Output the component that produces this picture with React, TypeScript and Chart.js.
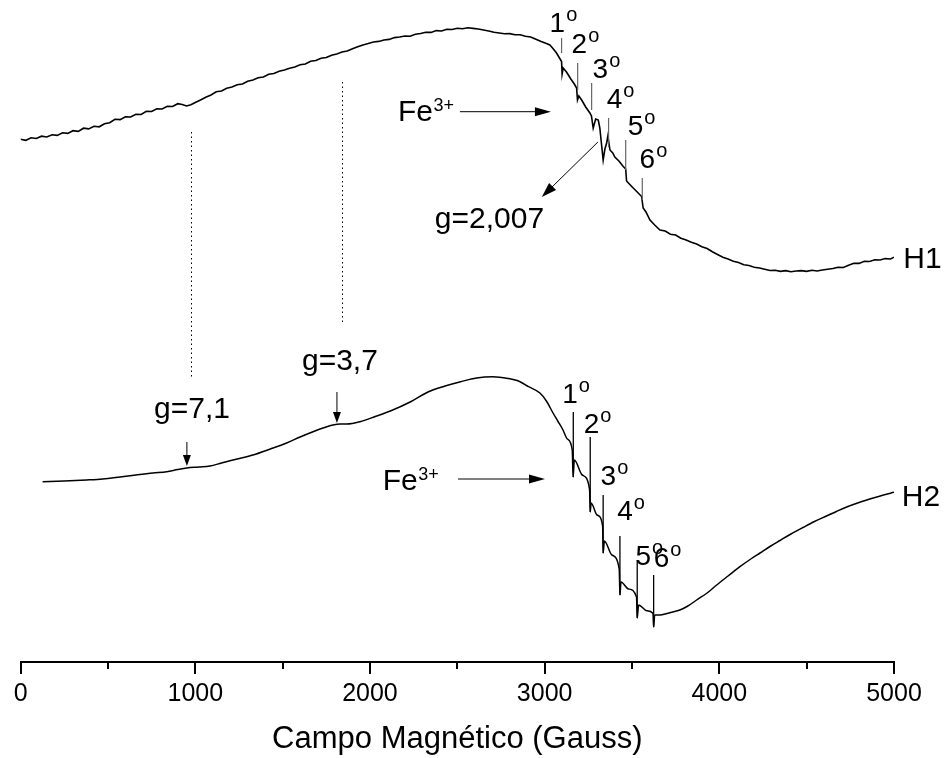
import React, { useEffect, useRef } from "react";
import { Chart, registerables } from "chart.js";

Chart.register(...registerables);

const FONT = '"Liberation Sans", Arial, Helvetica, sans-serif';

// ---------- Data (field in Gauss, signal in arbitrary units) ----------
const h1Field = [
  0, 30, 60, 90, 120, 150, 180, 210, 240, 270, 300, 330, 360, 390, 420, 450, 480, 510, 540, 570,
  600, 630, 660, 690, 720, 750, 780, 810, 840, 870, 900, 925, 950, 975, 1000, 1030, 1060, 1090, 1120, 1150,
  1180, 1210, 1240, 1270, 1300, 1330, 1360, 1390, 1420, 1450, 1480, 1510, 1540, 1570, 1600, 1630, 1660, 1690, 1720, 1750,
  1780, 1810, 1840, 1870, 1900, 1930, 1960, 1990, 2020, 2050, 2080, 2110, 2140, 2170, 2200, 2230, 2260, 2290, 2320, 2350,
  2380, 2410, 2440, 2470, 2500, 2530, 2560, 2590, 2620, 2650, 2680, 2710, 2740, 2770, 2800, 2830, 2860, 2890, 2920, 2950,
  2980, 3010, 3030, 3050, 3068, 3085, 3097, 3100, 3106, 3125, 3150, 3170, 3183, 3188, 3196, 3212, 3235, 3259, 3268, 3278,
  3292, 3307, 3316, 3335, 3345, 3355, 3362, 3374, 3390, 3402, 3425, 3450, 3464, 3469, 3485, 3507, 3530, 3555, 3564, 3580,
  3603, 3630, 3660, 3690, 3720, 3750, 3780, 3810, 3840, 3870, 3900, 3930, 3960, 3990, 4020, 4050, 4080, 4110, 4140, 4170,
  4200, 4230, 4260, 4290, 4320, 4350, 4380, 4410, 4440, 4470, 4500, 4530, 4560, 4590, 4620, 4650, 4680, 4710, 4740, 4770,
  4800, 4830, 4860, 4890, 4920, 4950, 4980, 5000,
];
const h1Signal = [
  52.27, 52.17, 52.42, 52.35, 52.58, 52.5, 52.73, 52.66, 52.92, 52.86, 53.13, 53.06, 53.38, 53.31, 53.58, 53.52, 53.83, 53.93, 54.27, 54.24,
  54.53, 54.5, 54.78, 54.75, 55.08, 55.05, 55.33, 55.3, 55.58, 55.55, 55.83, 55.75, 55.6, 55.72, 55.95, 56.2, 56.48, 56.7, 57.03, 57.1,
  57.38, 57.5, 57.73, 57.8, 58.08, 58.2, 58.43, 58.5, 58.78, 58.85, 59.08, 59.2, 59.38, 59.5, 59.73, 59.8, 60.08, 60.15, 60.38, 60.45,
  60.68, 60.8, 61.0, 61.1, 61.33, 61.53, 61.7, 61.84, 62.0, 62.06, 62.2, 62.26, 62.44, 62.5, 62.6, 62.57, 62.78, 62.85, 62.98, 62.96,
  63.14, 63.1, 63.28, 63.25, 63.38, 63.32, 63.43, 63.36, 63.3, 63.2, 63.1, 62.97, 62.9, 62.82, 62.84, 62.72, 62.72, 62.57, 62.5, 62.27,
  62.05, 61.85, 61.7, 61.3, 60.9, 60.4, 60.05, 58.8, 59.4, 59.0, 58.3, 57.8, 57.4, 56.2, 56.6, 56.2, 55.5, 54.9, 54.6, 53.4,
  54.3, 54.2, 53.4, 50.2, 51.3, 51.9, 52.6, 51.2, 50.9, 50.5, 50.1, 49.55, 49.3, 48.1, 47.8, 47.4, 47.0, 46.55, 45.4, 45.0,
  44.2, 43.7, 43.2, 43.1, 42.77, 42.7, 42.37, 42.2, 41.97, 41.8, 41.52, 41.35, 41.02, 40.75, 40.47, 40.3, 40.07, 39.95, 39.72, 39.65,
  39.47, 39.4, 39.27, 39.15, 39.18, 39.06, 39.14, 39.02, 39.1, 39.14, 39.06, 39.18, 39.1, 39.2, 39.28, 39.35, 39.48, 39.45, 39.68, 39.88,
  39.86, 40.08, 40.05, 40.23, 40.2, 40.34, 40.3, 40.48,
];

const h2Field = [
  126, 250, 378, 470, 569, 660, 758, 836, 900, 951, 1020, 1084, 1150, 1240, 1330, 1430, 1523, 1600, 1674, 1740,
  1788, 1830, 1867, 1943, 2030, 2117, 2230, 2335, 2430, 2519, 2610, 2703, 2790, 2859, 2908, 2973, 3010, 3048, 3075, 3105,
  3130, 3158, 3163, 3170, 3215, 3257, 3261, 3266, 3300, 3332, 3335, 3342, 3385, 3427, 3431, 3437, 3480, 3526, 3530, 3538,
  3584, 3620, 3624, 3630, 3660, 3700, 3774, 3820, 3870, 3930, 3985, 4050, 4118, 4180, 4233, 4290, 4347, 4410, 4479, 4545,
  4614, 4670, 4729, 4800, 4881, 4940, 5000,
];
const h2Signal = [
  18.03, 18.1, 18.2, 18.3, 18.5, 18.7, 18.9, 19.03, 19.25, 19.4, 19.5, 19.6, 19.9, 20.3, 20.7, 21.3, 21.9, 22.5, 23.03, 23.45,
  23.7, 23.8, 23.8, 24.03, 24.55, 25.1, 26.0, 27.03, 27.6, 28.03, 28.4, 28.53, 28.35, 28.03, 27.53, 26.9, 26.1, 24.9, 24.1, 23.2,
  22.3, 21.2, 18.5, 20.2, 18.7, 17.3, 15.0, 15.9, 14.7, 13.6, 10.9, 12.1, 10.7, 9.3, 6.7, 8.0, 7.3, 6.5, 4.4, 5.7,
  5.13, 4.87, 3.5, 4.7, 4.7, 4.85, 5.2, 5.6, 6.2, 6.9, 7.7, 8.6, 9.53, 10.3, 10.9, 11.55, 12.15, 12.8, 13.45, 14.05,
  14.6, 15.05, 15.5, 15.95, 16.4, 16.7, 16.97,
];

// ---------- Axis ----------
const xMajorTicks = [0, 1000, 2000, 3000, 4000, 5000];
const xMinorTicks = [500, 1500, 2500, 3500, 4500];
const xTitle = "Campo Magnético (Gauss)";

// ---------- Annotations (field, signal) ----------
const seriesNames = ["H1", "H2"];
const seriesLabelField = [5163, 5154];
const seriesLabelSignal = [40.2, 16.4];

const lineOrder = ["1", "2", "3", "4", "5", "6"];
const h1MarkField = [3097, 3189, 3269, 3366, 3464, 3559];
const h1MarkTop = [62.4, 59.9, 57.9, 54.4, 52.2, 48.4];
const h1MarkBottom = [60.9, 57.2, 55.2, 51.5, 49.2, 46.2];
const h1OrderField = [3073, 3199, 3319, 3400, 3520, 3588];
const h1OrderSignal = [63.8, 61.7, 59.2, 56.2, 53.5, 50.2];

const h2MarkField = [3164, 3261, 3335, 3431, 3530, 3624];
const h2MarkTop = [25.0, 22.5, 16.7, 12.6, 10.2, 8.7];
const h2MarkBottom = [18.5, 15.0, 10.9, 6.7, 4.4, 3.5];
const h2OrderField = [3145, 3268, 3365, 3460, 3565, 3669];
const h2OrderSignal = [26.7, 23.7, 18.5, 15.0, 10.5, 10.3];

// dotted guide lines: field, top signal, bottom signal
const guideField = [974, 1840];
const guideTop = [53.0, 58.0];
const guideBottom = [28.5, 33.7];

// g-value labels for H2 with short down arrows
const gLowText = ["g=7,1", "g=3,7"];
const gLowTextField = [981, 1828];
const gLowTextSignal = [25.2, 30.0];
const gLowArrowField = [952, 1811];
const gLowArrowFrom = [22.0, 27.0];
const gLowArrowTo = [19.6, 23.9];

// g=2,007 label with diagonal arrow
const gHighText = "g=2,007";
const gHighTextPos = [2684, 44.2];
const gHighArrowFrom = [3305, 52.0];
const gHighArrowTo = [2984, 46.5];

// Fe3+ labels: text left field, text signal, arrow start, arrow end, arrow signal
const feTextField = [2160, 2073];
const feTextSignal = [54.93, 18.03];
const feArrowStart = [2515, 2504];
const feArrowEnd = [3036, 3002];
const feArrowSignal = [55.03, 18.3];

function arrowHead(ctx: CanvasRenderingContext2D, x1: number, y1: number, x2: number, y2: number, len: number, half: number) {
  const a = Math.atan2(y2 - y1, x2 - x1);
  const bx = x2 - len * Math.cos(a);
  const by = y2 - len * Math.sin(a);
  ctx.beginPath();
  ctx.moveTo(x2, y2);
  ctx.lineTo(bx + half * Math.sin(a), by - half * Math.cos(a));
  ctx.lineTo(bx - half * Math.sin(a), by + half * Math.cos(a));
  ctx.closePath();
  ctx.fill();
}

function arrow(ctx: CanvasRenderingContext2D, x1: number, y1: number, x2: number, y2: number, len: number, half: number) {
  const a = Math.atan2(y2 - y1, x2 - x1);
  ctx.beginPath();
  ctx.moveTo(x1, y1);
  ctx.lineTo(x2 - (len - 2) * Math.cos(a), y2 - (len - 2) * Math.sin(a));
  ctx.stroke();
  arrowHead(ctx, x1, y1, x2, y2, len, half);
}

const annotationPlugin = {
  id: "eprAnnotations",
  afterDraw(chart: any) {
    const { ctx, scales } = chart;
    const xs = scales.x;
    const ys = scales.y;
    const px = (v: number) => xs.getPixelForValue(v);
    const py = (v: number) => ys.getPixelForValue(v);
    ctx.save();
    ctx.fillStyle = "#000";
    ctx.strokeStyle = "#000";

    // minor ticks
    ctx.lineWidth = 2;
    const base = chart.chartArea.bottom;
    xMinorTicks.forEach((v) => {
      const x = Math.round(px(v));
      ctx.beginPath();
      ctx.moveTo(x, base);
      ctx.lineTo(x, base + 7);
      ctx.stroke();
    });

    // dotted guides
    ctx.lineWidth = 1;
    ctx.setLineDash([1.5, 3]);
    guideField.forEach((f, i) => {
      const x = Math.round(px(f)) + 0.5;
      ctx.beginPath();
      ctx.moveTo(x, py(guideTop[i]));
      ctx.lineTo(x, py(guideBottom[i]));
      ctx.stroke();
    });
    ctx.setLineDash([]);

    // H1 marker lines (grey)
    ctx.strokeStyle = "#666";
    ctx.lineWidth = 1.2;
    h1MarkField.forEach((f, i) => {
      const x = px(f);
      ctx.beginPath();
      ctx.moveTo(x, py(h1MarkTop[i]));
      ctx.lineTo(x, py(h1MarkBottom[i]));
      ctx.stroke();
    });
    // H2 marker lines (black)
    ctx.strokeStyle = "#000";
    ctx.lineWidth = 1.3;
    h2MarkField.forEach((f, i) => {
      const x = px(f);
      ctx.beginPath();
      ctx.moveTo(x, py(h2MarkTop[i]));
      ctx.lineTo(x, py(h2MarkBottom[i]));
      ctx.stroke();
    });

    // order labels
    const order = (label: string, cx: number, cy: number) => {
      ctx.font = `28px ${FONT}`;
      ctx.textAlign = "center";
      ctx.textBaseline = "middle";
      ctx.fillText(label, cx, cy);
      const w = ctx.measureText(label).width;
      ctx.font = `20px ${FONT}`;
      ctx.textAlign = "left";
      ctx.textBaseline = "alphabetic";
      ctx.fillText("o", cx + w / 2 + 1, cy - 3.5);
    };
    lineOrder.forEach((l, i) => order(l, px(h1OrderField[i]), py(h1OrderSignal[i])));
    lineOrder.forEach((l, i) => order(l, px(h2OrderField[i]), py(h2OrderSignal[i])));

    // series names
    ctx.font = `30px ${FONT}`;
    ctx.textAlign = "center";
    ctx.textBaseline = "middle";
    seriesNames.forEach((n, i) => ctx.fillText(n, px(seriesLabelField[i]), py(seriesLabelSignal[i])));

    // g labels
    ctx.lineWidth = 1;
    gLowText.forEach((t, i) => {
      ctx.font = `30px ${FONT}`;
      ctx.textAlign = "center";
      ctx.textBaseline = "middle";
      ctx.fillText(t, px(gLowTextField[i]), py(gLowTextSignal[i]));
      const x = px(gLowArrowField[i]);
      arrow(ctx, x, py(gLowArrowFrom[i]), x, py(gLowArrowTo[i]), 11, 4);
    });
    ctx.font = `30px ${FONT}`;
    ctx.textAlign = "center";
    ctx.textBaseline = "middle";
    ctx.fillText(gHighText, px(gHighTextPos[0]), py(gHighTextPos[1]));
    arrow(ctx, px(gHighArrowFrom[0]), py(gHighArrowFrom[1]), px(gHighArrowTo[0]), py(gHighArrowTo[1]), 15, 5);

    // Fe3+
    feTextField.forEach((f, i) => {
      const x = px(f);
      const y = py(feTextSignal[i]);
      ctx.font = `30px ${FONT}`;
      ctx.textAlign = "left";
      ctx.textBaseline = "middle";
      ctx.fillText("Fe", x, y);
      const w = ctx.measureText("Fe").width;
      ctx.font = `18px ${FONT}`;
      ctx.textBaseline = "alphabetic";
      ctx.fillText("3+", x + w + 0.5, y - 10.7 + 9);
      const ay = py(feArrowSignal[i]);
      arrow(ctx, px(feArrowStart[i]), ay, px(feArrowEnd[i]), ay, 16, 4.5);
    });

    ctx.restore();
  },
};

export default function App() {
  const ref = useRef<HTMLCanvasElement | null>(null);
  useEffect(() => {
    document.body.style.margin = "0";
    const canvas = ref.current;
    if (!canvas) return;
    const chart = new Chart(canvas, {
      type: "line",
      data: {
        datasets: [
          {
            label: "H1",
            data: h1Field.map((x, i) => ({ x, y: h1Signal[i] })),
            borderColor: "#000",
            borderWidth: 1.6,
            pointRadius: 0,
            tension: 0,
            fill: false,
          },
          {
            label: "H2",
            data: h2Field.map((x, i) => ({ x, y: h2Signal[i] })),
            borderColor: "#000",
            borderWidth: 1.5,
            pointRadius: 0,
            cubicInterpolationMode: "monotone",
            fill: false,
          },
        ],
      },
      options: {
        animation: false,
        responsive: false,
        events: [],
        layout: { padding: { left: 20.6, right: 52, top: 0, bottom: 0 } },
        plugins: { legend: { display: false }, tooltip: { enabled: false } },
        scales: {
          x: {
            type: "linear",
            position: "bottom",
            min: 0,
            max: 5000,
            afterBuildTicks: (s: any) => {
              s.ticks = xMajorTicks.map((v) => ({ value: v }));
            },
            afterFit: (s: any) => {
              s.height = 96;
            },
            ticks: {
              font: { family: FONT, size: 25 },
              color: "#000",
              padding: 5,
              maxRotation: 0,
              autoSkip: false,
              callback: (v: any) => String(v),
            },
            grid: {
              display: true,
              drawOnChartArea: false,
              drawTicks: true,
              tickLength: 12,
              color: "#000",
              lineWidth: 2,
            },
            border: { display: true, color: "#000", width: 2 },
            title: {
              display: true,
              text: xTitle,
              font: { family: FONT, size: 31 },
              color: "#000",
              padding: { top: 0, bottom: 0 },
            },
          },
          y: { type: "linear", display: false, min: 0, max: 66.2 },
        },
      },
      plugins: [annotationPlugin],
    } as any);
    return () => chart.destroy();
  }, []);
  return (
    <div style={{ width: 946, height: 758 }}>
      <canvas ref={ref} width={946} height={758} style={{ display: "block" }} />
    </div>
  );
}
